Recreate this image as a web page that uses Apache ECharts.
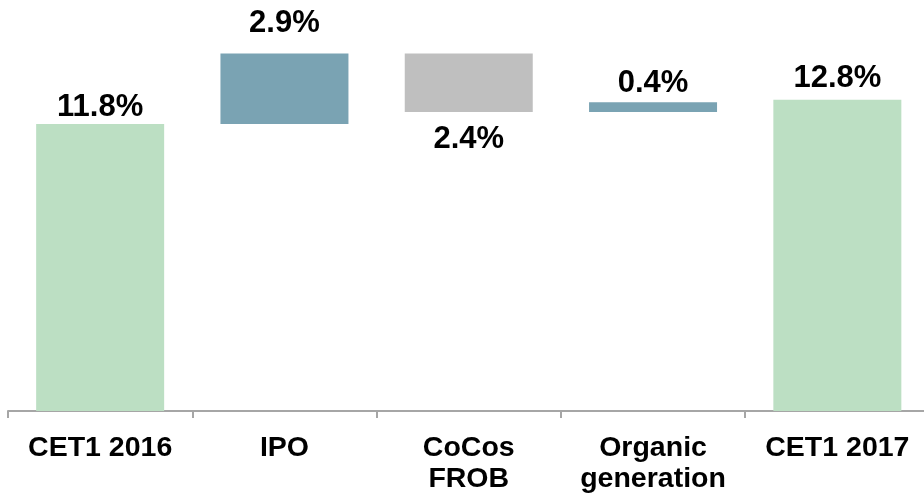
<!DOCTYPE html>
<html>
<head>
<meta charset="utf-8">
<script src="https://cdn.jsdelivr.net/npm/echarts@6/dist/echarts.min.js"></script>
<style>
  html, body { margin: 0; padding: 0; background: #fff; }
  #chart { width: 924px; height: 494px; }
</style>
</head>
<body>
<div id="chart"></div>
<script>
// CET1 capital bridge, 2016 -> 2017 (percentage points)
const categories = ['CET1 2016', 'IPO', 'CoCos\nFROB', 'Organic\ngeneration', 'CET1 2017'];
const changes = [11.8, 2.9, -2.4, 0.4, 12.8];
const kinds = ['total', 'up', 'down', 'up', 'total'];
const valueLabels = ['11.8%', '2.9%', '2.4%', '0.4%', '12.8%'];

const colors = { total: '#BCDFC3', up: '#7AA3B3', down: '#BFBFBF' };
const labelGap = [1, 15, 12, 3, 6];
const FONT = 'Arial, "Liberation Sans", sans-serif';

// Invisible offsets and visible bar heights for the waterfall
const offsets = [];
const heights = [];
let running = 0;
changes.forEach((v, i) => {
  if (kinds[i] === 'total') {
    offsets.push(0);
    heights.push(v);
    running = v;
  } else if (v >= 0) {
    offsets.push(running);
    heights.push(v);
    running += v;
  } else {
    running += v;
    offsets.push(running);
    heights.push(-v);
  }
});

const chart = echarts.init(document.getElementById('chart'), null, { renderer: 'canvas' });
chart.setOption({
  animation: false,
  backgroundColor: '#ffffff',
  grid: {
    left: 8, top: 22, width: 921.5, height: 389,
    containLabel: false,
    outerBoundsMode: 'none'
  },
  xAxis: {
    type: 'category',
    data: categories,
    boundaryGap: true,
    axisLine: { lineStyle: { color: '#A6A6A6', width: 2 } },
    axisTick: { show: true, alignWithLabel: false, length: 7, lineStyle: { color: '#A6A6A6', width: 2 } },
    axisLabel: {
      interval: 0,
      margin: 22,
      color: '#000',
      fontFamily: FONT,
      fontWeight: 'bold',
      fontSize: 28.5,
      lineHeight: 31,
      verticalAlign: 'top'
    }
  },
  yAxis: {
    type: 'value',
    min: 0,
    max: 16,
    show: false,
    splitLine: { show: false }
  },
  series: [
    {
      name: 'offset',
      type: 'bar',
      stack: 'bridge',
      data: offsets,
      itemStyle: { color: 'transparent' },
      silent: true,
      barWidth: 128
    },
    {
      name: 'change',
      type: 'bar',
      stack: 'bridge',
      barWidth: 128,
      data: heights.map((h, i) => ({
        value: h,
        itemStyle: { color: colors[kinds[i]] },
        label: {
          show: true,
          position: kinds[i] === 'down' ? 'bottom' : 'top',
          distance: labelGap[i],
          formatter: valueLabels[i],
          color: '#000',
          fontFamily: FONT,
          fontWeight: 'bold',
          fontSize: 31
        }
      }))
    }
  ]
});
</script>
</body>
</html>
